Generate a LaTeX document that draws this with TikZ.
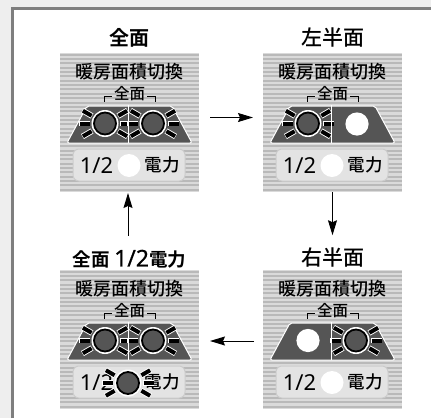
\documentclass[tikz,border=0pt]{standalone}
\usepackage{fontspec}
\setmainfont[BoldFont={Noto Sans CJK JP Bold}]{Noto Sans CJK JP Medium}
\newfontfamily\latinreg{Noto Sans}
\newfontfamily\latinmed[FakeBold=0.5]{Noto Sans}
\usetikzlibrary{arrows.meta}
\definecolor{bgc}{HTML}{EEEEEE}
\definecolor{framec}{HTML}{7E7E7E}
\definecolor{stripeA}{HTML}{DADADA}
\definecolor{stripeB}{HTML}{B9B9B9}
\definecolor{lampc}{HTML}{555555}
\definecolor{btnc}{HTML}{E3E3E3}
\definecolor{btne}{HTML}{CCCCCC}
\tikzset{
  panelbox/.style={minimum width=139pt,minimum height=139pt,inner sep=0pt,outer sep=0pt,fill=stripeA,
    path picture={\foreach \i in {0,...,32}{\draw[stripeB,line width=2pt]
      ([yshift={-1.6pt-\i*4.36pt}]path picture bounding box.north west) -- ([yshift={-1.6pt-\i*4.36pt}]path picture bounding box.north east);}}},
  heading/.style={font=\fontsize{21}{22}\selectfont,inner sep=0pt,outer sep=0pt,text=black},
  headingbold/.style={heading,font=\fontsize{20}{22}\selectfont\bfseries},
  paneltitle/.style={font=\fontsize{18}{20}\selectfont,inner sep=0pt},
  smalltitle/.style={font=\fontsize{15.5}{18}\selectfont,inner sep=0pt},
  btntext/.style={font=\fontsize{17.5}{20}\selectfont,inner sep=0pt},
  numtext/.style={font=\fontsize{22}{24}\selectfont\latinreg,inner sep=0pt},
  conn/.style={line width=1pt,-{Stealth[length=15pt,width=9pt,inset=2pt]}},
  raywhite/.style={white,line width=5.8pt},
  rayblack/.style={black,line width=4pt},
}
\newcommand{\lamplit}[2]{%
  \foreach \a in {0,30,-30,180,150,210}{
    \draw[raywhite] ({#1+15*cos(\a)},{#2+15*sin(\a)}) -- ({#1+26*cos(\a)},{#2+26*sin(\a)});
    \draw[rayblack] ({#1+15.5*cos(\a)},{#2+15.5*sin(\a)}) -- ({#1+25.5*cos(\a)},{#2+25.5*sin(\a)});
  }
  \fill[white] (#1,#2) circle (13.5pt);
  \draw[black,fill=lampc,line width=1.8pt] (#1,#2) circle (11pt);
}
% #1 name, #2 #3 centre, #4 state: 0 all, 1 left, 2 right ; #5 button lit
\newcommand{\lamppanel}[5]{%
  \node[panelbox] (#1) at (#2,#3) {};
  \begin{scope}[shift={(#1.north west)}]
    \node[paneltitle] (#1t) at (69.5,18.5) {暖房面積切換};
    \node[smalltitle] (#1s) at (69.5,40.5) {全面};
    \draw[black,line width=1pt] (44.5,48.5) -- (44.5,43) -- (52,43);
    \draw[black,line width=1pt] (87,43) -- (95,43) -- (95,48.5);
    \draw[white,fill=lampc,line width=1pt,rounded corners=2pt] (27,53) -- (112,53) -- (132,90) -- (7,90) -- cycle;
    \ifnum#4=2 \fill[white] (45,70.5) circle (11.6pt); \else \lamplit{45}{70.5} \fi
    \ifnum#4=1 \fill[white] (94,71) circle (11.6pt); \else \lamplit{93}{70.5} \fi
    \draw[white,line width=1.5pt] (68.5,52) -- (68.5,90);
    \draw[btne,fill=btnc,line width=1pt,rounded corners=6pt] (13,96) rectangle (125,128);
    \node[numtext] (#1a) at (36.5,112.5) {1/2};
    \node[btntext] (#1b) at (102,112) {電力};
    \ifnum#5=1 \lamplit{68}{113} \else \fill[white] (69,112.5) circle (11.5pt); \fi
  \end{scope}
}
\begin{document}
\begin{tikzpicture}[x=1pt,y=-1pt]
  \useasboundingbox (0,0) rectangle (431,418);
  \fill[bgc] (0,0) rectangle (431,418);
  \fill[white] (12.5,8.5) rectangle (431,418);
  \draw[framec,line width=3pt] (12.5,418) -- (12.5,8.5) -- (431,8.5);
  \lamppanel{a}{129.5}{122.5}{0}{0}
  \lamppanel{b}{332.5}{122.5}{1}{0}
  \lamppanel{c}{129.5}{339.5}{0}{1}
  \lamppanel{d}{332.5}{339.5}{2}{0}
  \node[headingbold] (ta) at (129,38) {全面};
  \node[heading] (tb) at (332.5,38) {左半面};
  \node[headingbold,font=\fontsize{18.5}{22}\selectfont\bfseries] (tc) at (129.5,259) {全面 {\fontsize{23}{22}\selectfont\latinmed 1/2}電力};
  \node[heading] (td) at (332.5,258) {右半面};
  \draw[conn] ([xshift=11pt,yshift=5pt]a.east) -- ([xshift=-10pt,yshift=5pt]b.west);
  \draw[conn] (b.south) -- ([yshift=13pt]td.north);
  \draw[conn] ([xshift=-9pt,yshift=-1.5pt]d.west) -- ([xshift=11pt,yshift=-1.5pt]c.east);
  \draw[conn] ([xshift=-1.5pt,yshift=14pt]tc.north) -- ([xshift=-1.5pt,yshift=-1pt]a.south);
\end{tikzpicture}
\end{document}
